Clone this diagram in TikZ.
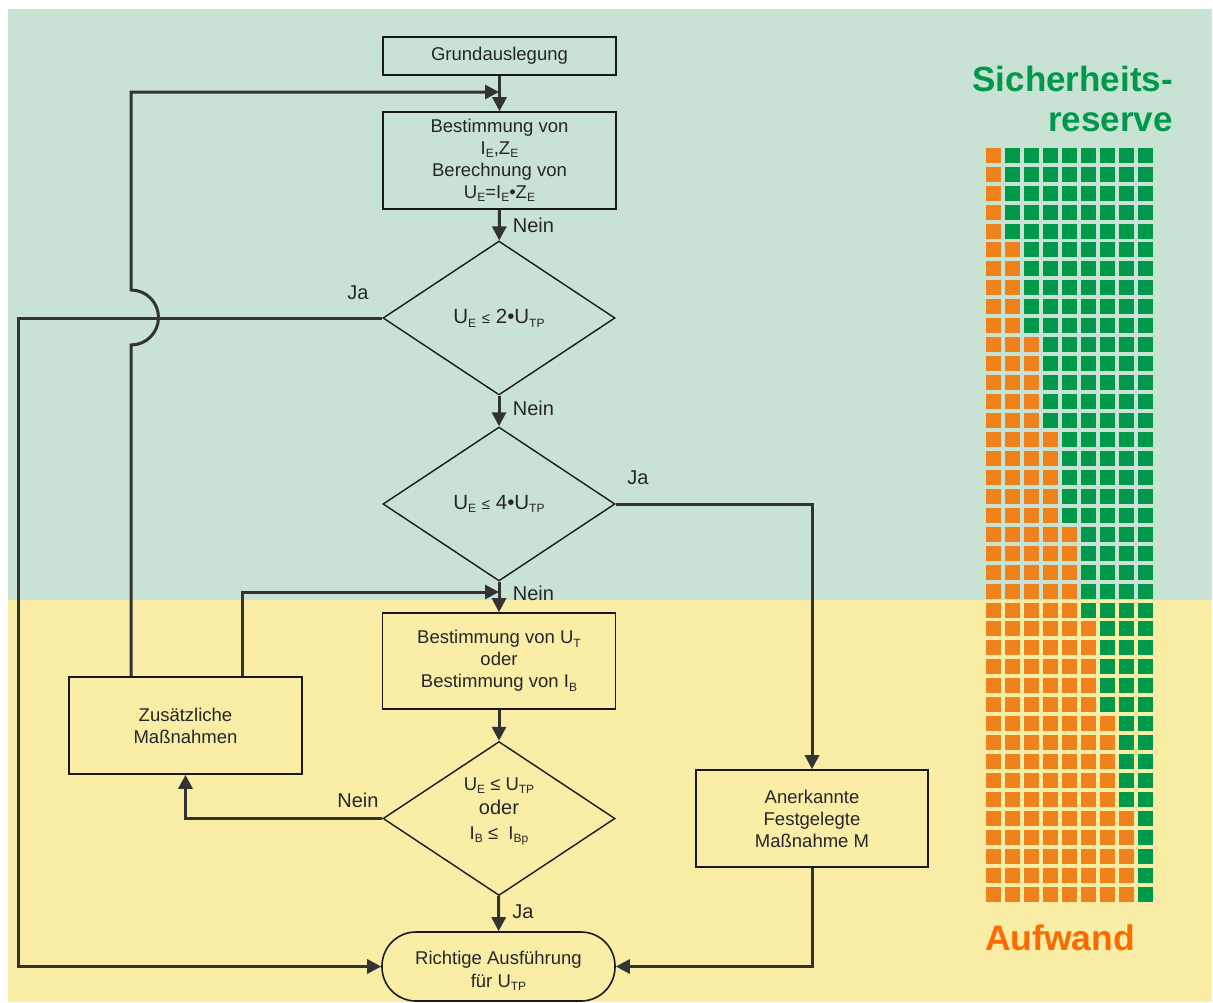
\documentclass[tikz,border=0pt]{standalone}
\usepackage{fontspec}
\setmainfont{Liberation Sans}
\usetikzlibrary{shapes.geometric,arrows.meta}
\definecolor{bggreen}{HTML}{C8E3D4}
\definecolor{bgyellow}{HTML}{FAEEA6}
\definecolor{sqorange}{HTML}{F0821E}
\definecolor{sqgreen}{HTML}{00984A}
\definecolor{txtgreen}{HTML}{00994C}
\definecolor{txtorange}{HTML}{FF6A00}
\definecolor{conncol}{HTML}{333333}
\newcommand{\lowsub}[1]{\raisebox{-0.35ex}{\fontsize{12}{12}\selectfont #1}}
\newcommand{\smallle}{{\fontsize{15}{15}\selectfont ≤}}
\begin{document}
\begin{tikzpicture}[x=1pt,y=-1pt,
  every node/.style={font=\fontsize{18.5}{22}\selectfont, text=black!85},
  box/.style={draw=black!90, line width=1.6pt, rectangle, inner sep=0pt, align=center},
  decision/.style={draw=black!90, line width=1.4pt, diamond, inner sep=0pt, align=center, minimum width=232pt, minimum height=154pt},
  conn/.style={draw=conncol, line width=3pt, -{Triangle[length=14pt,width=14pt]}},
  lbl/.style={inner sep=0pt, font=\fontsize{20}{22}\selectfont},
]
% background
\useasboundingbox (0,0) rectangle (1213,1002);
\fill[white] (0,0) rectangle (1213,1002);
\fill[bggreen] (8,9) rectangle (1212,600);
\fill[bgyellow] (8,600) rectangle (1212,1002);

% nodes
\node[box, minimum width=233pt, minimum height=38pt] (g) at (499.5,56) {Grundauslegung};
\node[box, minimum width=233pt, minimum height=97pt] (b2) at (499.5,160.5)
  {Bestimmung von\\I\lowsub{E},Z\lowsub{E}\\Berechnung von\\U\lowsub{E}=I\lowsub{E}•Z\lowsub{E}};
\node[decision, font=\fontsize{20.5}{24}\selectfont] (d1) at (499,318) {U\lowsub{E} \smallle{} 2•U\lowsub{TP}};
\node[decision, font=\fontsize{20.5}{24}\selectfont] (d2) at (499,504) {U\lowsub{E} \smallle{} 4•U\lowsub{TP}};
\node[box, minimum width=233pt, minimum height=96pt] (b3) at (499,661)
  {Bestimmung von U\lowsub{T}\\oder\\Bestimmung von I\lowsub{B}};
\node[decision, label={[align=center, inner sep=0pt, yshift=7pt, font=\fontsize{18.5}{24.5}\selectfont]center:U\lowsub{E} ≤ U\lowsub{TP}\\{\fontsize{20}{24.5}\selectfont oder}\\I\lowsub{B} ≤ ~I\lowsub{Bp}}] (d3) at (499,818.5) {};
\node[box, minimum width=233pt, minimum height=97pt] (zm) at (185.5,725.5) {Zusätzliche\\Maßnahmen};
\node[box, minimum width=232pt, minimum height=97pt] (am) at (812,818.5) {Anerkannte\\Festgelegte\\Maßnahme M};
\node[box, rounded corners=34pt, minimum width=233pt, minimum height=69pt,
  label={[align=center, inner sep=0pt, yshift=-4pt, font=\fontsize{18.5}{23}\selectfont]center:Richtige Ausführung\\für U\lowsub{TP}}] (t) at (498.5,966.5) {};

% helper coordinates
\coordinate (fbtop) at (131,92);
\coordinate (fbjump) at (131,345);
\coordinate (lx) at (18,318);
\coordinate (lp) at (242,592);
\coordinate (entry2) at (499,92);
\coordinate (entry3) at (499,592);

% connectors
\draw[conn] (g) -- (b2);
\draw[conn] (zm.north -| fbjump) -- (fbjump) arc[start angle=90, end angle=-90, radius=27.5] -- (fbtop) -- (entry2);
\draw[conn] (b2) -- (d1);
\draw[conn] (d1.west) -- (lx) |- (t.west);
\draw[conn] (d1) -- (d2);
\draw[conn] (d2.east) -| (am.north);
\draw[conn] (d2) -- (b3);
\draw[conn] (zm.north -| lp) -- (lp) -- (entry3);
\draw[conn] (b3) -- (d3);
\draw[conn] (d3.west) -| (zm.south);
\draw[conn] (d3) -- (t);
\draw[conn] (am.south) |- (t.east);

% labels
\node[lbl] (n1) at (533.5,225) {Nein};
\node[lbl] (n2) at (533.5,408) {Nein};
\node[lbl] (n3) at (533.5,593) {Nein};
\node[lbl] (n4) at (358,800) {Nein};
\node[lbl] (j1) at (358,293) {Ja};
\node[lbl] (j2) at (638,478) {Ja};
\node[lbl] (j3) at (523,912) {Ja};

% grid
\foreach \i in {1,...,40}{
  \pgfmathtruncatemacro\norng{(\i+4)/5}
  \foreach \j in {1,...,9}{
    \pgfmathsetmacro\xx{986+19*(\j-1)}
    \pgfmathsetmacro\yy{147.7+18.95*(\i-1)}
    \ifnum\j>\norng \def\cc{sqgreen}\else\def\cc{sqorange}\fi
    \fill[\cc] (\xx,\yy) rectangle ++(15,15);
  }
}

% side texts
\node[anchor=base east, inner sep=0pt, text=txtgreen, font=\fontsize{35}{40}\selectfont\bfseries] (sr1) at (1173,91) {Sicherheits-};
\node[anchor=base east, inner sep=0pt, text=txtgreen, font=\fontsize{35}{40}\selectfont\bfseries] (sr2) at (1173,131) {reserve};
\node[anchor=base west, inner sep=0pt, text=txtorange, font=\fontsize{35.5}{40}\selectfont\bfseries] (aw) at (985,950) {Aufwand};
\end{tikzpicture}
\end{document}
